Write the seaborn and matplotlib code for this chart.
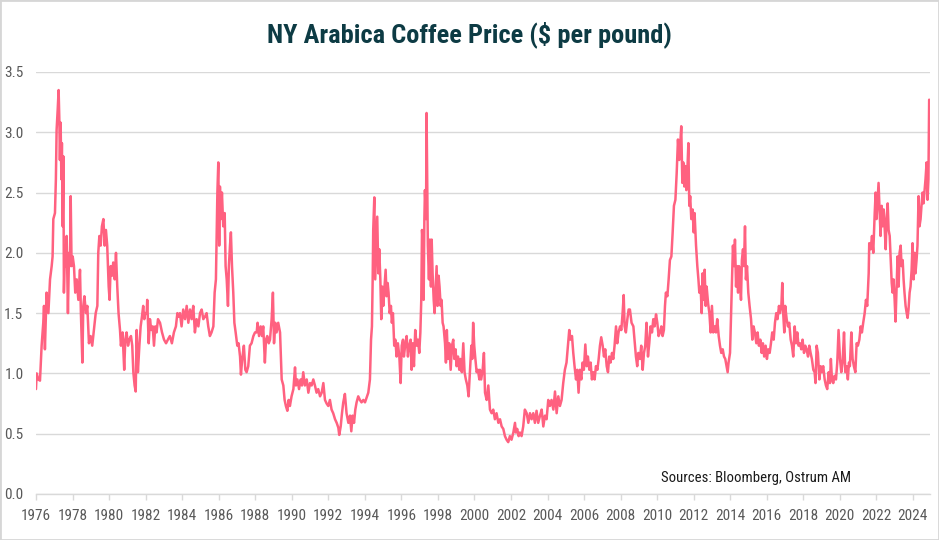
import numpy as np
import pandas as pd
import matplotlib
matplotlib.use("Agg")
import matplotlib.pyplot as plt
from matplotlib import font_manager
from matplotlib.patches import Rectangle
import seaborn as sns

# ---------------- data ----------------
years_1976_1983 = [
    1976.00,1976.04,1976.13,1976.22,1976.31,1976.40,1976.44,1976.49,1976.58,1976.68,
    1976.77,1976.86,1976.91,1976.95,1977.04,1977.09,1977.13,1977.19,1977.24,1977.28,
    1977.31,1977.35,1977.39,1977.42,1977.46,1977.50,1977.53,1977.59,1977.64,1977.68,
    1977.75,1977.81,1977.86,1977.90,1977.95,1978.01,1978.08,1978.15,1978.23,1978.32,
    1978.41,1978.46,1978.54,1978.59,1978.65,1978.74,1978.81,1978.90,1978.99,1979.08,
    1979.17,1979.27,1979.36,1979.41,1979.47,1979.54,1979.61,1979.69,1979.76,1979.83,
    1979.90,1979.98,1980.03,1980.09,1980.16,1980.23,1980.31,1980.38,1980.45,1980.52,
    1980.60,1980.65,1980.74,1980.83,1980.89,1980.96,1981.04,1981.11,1981.20,1981.27,
    1981.33,1981.40,1981.46,1981.51,1981.58,1981.66,1981.73,1981.80,1981.87,1981.93,
    1981.98,1982.06,1982.09,1982.17,1982.24,1982.31,1982.39,1982.46,1982.53,1982.60,
    1982.68,1982.79,1982.90,1983.01,1983.12,1983.22,1983.33,1983.44,1983.55,1983.66,
    1983.74,1983.81]
prices_1976_1983 = [
    0.87,1.00,0.95,0.94,1.23,1.42,1.56,1.20,1.67,1.50,
    1.78,1.89,1.97,2.28,2.33,2.61,3.02,3.19,3.35,3.10,
    2.77,3.08,2.61,2.91,2.22,2.80,1.67,2.06,1.89,2.14,
    1.50,2.00,1.89,2.47,1.89,1.97,1.89,1.67,1.78,1.61,
    1.86,1.50,1.09,1.56,1.64,1.50,1.56,1.25,1.31,1.23,
    1.36,1.50,1.56,2.00,2.14,2.06,2.22,2.28,2.06,2.19,
    2.06,1.72,1.61,1.89,1.81,1.92,1.78,2.00,1.72,1.50,
    1.36,1.23,1.34,1.03,1.28,1.34,1.23,1.28,1.31,1.23,
    1.01,0.90,0.85,1.36,1.01,1.23,1.39,1.47,1.56,1.45,
    1.50,1.50,1.61,1.25,1.45,1.36,1.39,1.23,1.39,1.34,
    1.45,1.42,1.34,1.28,1.25,1.28,1.31,1.25,1.34,1.39,
    1.50,1.47]

years_1984_1991 = [
    1983.88,1983.97,1984.06,1984.16,1984.25,1984.34,1984.43,1984.52,1984.61,1984.70,
    1984.79,1984.89,1984.98,1985.07,1985.16,1985.25,1985.34,1985.43,1985.52,1985.61,
    1985.71,1985.78,1985.85,1985.93,1985.98,1986.03,1986.07,1986.12,1986.18,1986.25,
    1986.33,1986.38,1986.44,1986.51,1986.56,1986.62,1986.67,1986.73,1986.80,1986.86,
    1986.93,1987.02,1987.09,1987.17,1987.22,1987.29,1987.38,1987.46,1987.53,1987.62,
    1987.71,1987.80,1987.90,1987.99,1988.08,1988.13,1988.21,1988.30,1988.37,1988.44,
    1988.53,1988.59,1988.66,1988.74,1988.81,1988.90,1988.97,1989.03,1989.10,1989.17,
    1989.26,1989.36,1989.45,1989.54,1989.61,1989.68,1989.76,1989.83,1989.90,1989.99,
    1990.09,1990.18,1990.23,1990.31,1990.40,1990.49,1990.56,1990.63,1990.72,1990.82,
    1990.91,1991.00,1991.09,1991.18,1991.27,1991.36,1991.45,1991.55,1991.64,1991.73,
    1991.82,1991.91,1992.00]
prices_1984_1991 = [
    1.50,1.39,1.53,1.45,1.56,1.42,1.53,1.45,1.56,1.34,
    1.45,1.39,1.50,1.53,1.45,1.47,1.50,1.39,1.31,1.34,
    1.39,1.67,1.78,2.50,2.75,2.06,2.55,2.28,2.50,2.22,
    2.33,1.89,1.78,1.56,1.89,2.06,2.17,1.89,1.67,1.42,
    1.34,1.23,1.25,1.14,0.99,1.12,1.23,1.03,1.01,1.06,
    1.23,1.25,1.31,1.34,1.34,1.42,1.31,1.39,1.31,1.39,
    1.09,1.28,1.31,1.25,1.28,1.45,1.67,1.25,1.42,1.34,
    1.42,1.34,0.95,0.90,0.78,0.73,0.69,0.78,0.73,0.81,
    0.87,1.05,0.90,0.95,0.87,0.95,0.90,1.01,0.90,0.95,
    0.84,0.92,0.90,0.95,0.90,0.84,0.87,0.81,0.84,0.92,
    0.78,0.75,0.73]

years_1992_2000 = [
    1992.09,1992.18,1992.27,1992.37,1992.46,1992.55,1992.60,1992.68,1992.75,1992.82,
    1992.91,1993.00,1993.10,1993.19,1993.26,1993.33,1993.41,1993.48,1993.55,1993.64,
    1993.73,1993.82,1993.92,1994.01,1994.10,1994.19,1994.28,1994.34,1994.39,1994.43,
    1994.46,1994.52,1994.57,1994.63,1994.68,1994.74,1994.79,1994.85,1994.90,1994.96,
    1995.01,1995.08,1995.14,1995.19,1995.25,1995.30,1995.36,1995.43,1995.48,1995.54,
    1995.61,1995.67,1995.74,1995.81,1995.89,1995.96,1996.02,1996.09,1996.14,1996.22,
    1996.29,1996.36,1996.43,1996.51,1996.56,1996.62,1996.69,1996.76,1996.84,1996.91,
    1996.98,1997.04,1997.09,1997.13,1997.18,1997.22,1997.26,1997.29,1997.35,1997.38,
    1997.42,1997.45,1997.51,1997.56,1997.62,1997.66,1997.71,1997.77,1997.82,1997.87,
    1997.93,1997.98,1998.04,1998.09,1998.15,1998.20,1998.26,1998.31,1998.39,1998.44,
    1998.49,1998.55,1998.62,1998.70,1998.77,1998.84,1998.90,1998.97,1999.02,1999.10,
    1999.17,1999.24,1999.31,1999.39,1999.46,1999.53,1999.61,1999.68,1999.75,1999.83,
    1999.88,1999.93,1999.99,2000.04,2000.12,2000.19,2000.27]
prices_1992_2000 = [
    0.78,0.70,0.67,0.62,0.59,0.55,0.49,0.56,0.67,0.76,
    0.83,0.67,0.59,0.65,0.52,0.65,0.59,0.70,0.76,0.81,
    0.78,0.76,0.78,0.76,0.80,0.84,0.95,1.28,1.39,1.78,
    2.19,2.46,1.78,2.06,2.30,1.83,2.03,1.78,1.45,1.72,
    1.56,1.72,1.86,1.64,1.75,1.67,1.50,1.56,1.42,1.50,
    1.23,1.28,1.14,1.25,1.14,0.92,1.23,1.28,1.14,1.25,
    1.31,1.14,1.23,1.28,1.03,1.25,1.06,1.36,1.23,1.28,
    1.17,1.34,1.61,2.19,2.06,1.61,2.28,2.52,2.28,3.16,
    2.55,2.06,1.78,2.11,1.72,2.11,1.83,1.61,1.50,1.67,
    1.89,1.56,1.81,1.72,1.56,1.61,1.42,1.39,1.25,1.09,
    1.36,1.12,1.25,1.03,1.23,1.28,1.12,1.20,1.06,1.14,
    1.03,1.12,1.01,1.25,1.01,0.95,0.90,0.81,1.01,1.23,
    1.12,1.42,1.23,1.14,1.01,1.03,0.95]

years_2000_2008 = [
    2000.30,2000.37,2000.45,2000.52,2000.58,2000.67,2000.76,2000.85,2000.94,2001.03,
    2001.12,2001.21,2001.31,2001.40,2001.49,2001.58,2001.67,2001.76,2001.85,2001.94,
    2002.03,2002.13,2002.22,2002.27,2002.34,2002.42,2002.49,2002.58,2002.67,2002.76,
    2002.86,2002.95,2003.04,2003.13,2003.22,2003.31,2003.40,2003.49,2003.59,2003.68,
    2003.77,2003.86,2003.95,2004.04,2004.13,2004.22,2004.32,2004.41,2004.50,2004.59,
    2004.68,2004.77,2004.86,2004.95,2005.04,2005.12,2005.19,2005.26,2005.34,2005.41,
    2005.48,2005.56,2005.63,2005.70,2005.77,2005.85,2005.92,2005.99,2006.07,2006.14,
    2006.21,2006.29,2006.36,2006.43,2006.51,2006.58,2006.65,2006.73,2006.80,2006.87,
    2006.94,2007.02,2007.09,2007.16,2007.24,2007.31,2007.38,2007.45,2007.53,2007.60,
    2007.67,2007.75,2007.82,2007.89,2007.97,2008.04,2008.11,2008.17,2008.22,2008.29,
    2008.37,2008.44]
prices_2000_2008 = [
    1.03,0.95,1.03,1.17,0.84,0.78,0.90,0.70,0.67,0.70,
    0.62,0.67,0.59,0.62,0.56,0.54,0.48,0.45,0.43,0.48,
    0.45,0.51,0.59,0.51,0.54,0.48,0.51,0.48,0.56,0.70,
    0.67,0.59,0.67,0.62,0.67,0.59,0.69,0.59,0.65,0.70,
    0.56,0.65,0.62,0.78,0.73,0.78,0.70,0.85,0.67,0.81,
    0.73,0.78,0.92,1.03,1.09,1.23,1.36,1.28,1.31,1.17,
    1.06,0.95,1.03,0.84,1.03,0.95,1.09,1.03,1.24,1.06,
    1.14,1.03,1.09,0.95,1.01,0.95,1.06,1.03,1.12,1.23,
    1.30,1.23,1.14,1.20,1.06,1.01,1.14,1.09,1.17,1.12,
    1.23,1.39,1.25,1.34,1.39,1.36,1.50,1.65,1.39,1.34,
    1.45,1.53]

years_2008_2016 = [
    2008.51,2008.60,2008.70,2008.79,2008.84,2008.91,2008.97,2009.06,2009.13,2009.21,
    2009.28,2009.35,2009.42,2009.50,2009.57,2009.64,2009.72,2009.79,2009.86,2009.94,
    2010.01,2010.08,2010.16,2010.23,2010.30,2010.37,2010.43,2010.48,2010.56,2010.63,
    2010.70,2010.78,2010.85,2010.92,2011.00,2011.07,2011.14,2011.21,2011.27,2011.32,
    2011.38,2011.43,2011.49,2011.54,2011.60,2011.65,2011.71,2011.76,2011.81,2011.87,
    2011.94,2012.00,2012.05,2012.13,2012.20,2012.26,2012.31,2012.38,2012.44,2012.49,
    2012.55,2012.60,2012.66,2012.71,2012.79,2012.86,2012.93,2013.00,2013.07,2013.15,
    2013.22,2013.29,2013.37,2013.44,2013.51,2013.59,2013.66,2013.73,2013.80,2013.86,
    2013.91,2013.99,2014.04,2014.10,2014.15,2014.21,2014.26,2014.32,2014.37,2014.43,
    2014.48,2014.53,2014.59,2014.64,2014.70,2014.75,2014.81,2014.86,2014.92,2014.99,
    2015.06,2015.14,2015.21,2015.28,2015.35,2015.43,2015.50,2015.57,2015.65,2015.72,
    2015.79,2015.86,2015.94,2016.01,2016.08,2016.16,2016.23,2016.30,2016.38,2016.45,
    2016.52,2016.59,2016.67]
prices_2008_2016 = [
    1.53,1.42,1.39,1.23,1.14,1.06,1.17,1.12,1.23,1.03,
    1.17,1.23,1.42,1.14,1.25,1.39,1.34,1.45,1.39,1.49,
    1.42,1.31,1.34,1.39,1.31,1.36,1.56,1.67,1.64,1.78,
    1.94,1.97,2.17,2.39,2.44,2.66,2.94,2.77,2.91,3.05,
    2.58,2.75,2.55,2.72,2.52,2.66,2.91,2.39,2.47,2.28,
    2.36,2.17,2.33,2.06,1.89,1.78,1.67,1.72,1.50,1.83,
    1.61,1.86,1.56,1.72,1.58,1.50,1.34,1.56,1.34,1.39,
    1.34,1.45,1.31,1.23,1.17,1.20,1.14,1.12,1.06,1.01,
    1.09,1.17,1.45,1.78,2.06,1.89,2.11,1.72,1.89,1.67,
    1.89,1.78,1.61,1.94,2.03,1.89,2.22,1.78,1.89,1.67,
    1.56,1.45,1.28,1.39,1.34,1.25,1.34,1.23,1.28,1.17,
    1.25,1.14,1.23,1.12,1.20,1.17,1.25,1.34,1.28,1.42,
    1.50,1.45,1.56]

years_2016_2024 = [
    2016.72,2016.80,2016.85,2016.90,2016.96,2017.01,2017.09,2017.16,2017.23,2017.31,
    2017.38,2017.45,2017.53,2017.60,2017.67,2017.74,2017.82,2017.89,2017.96,2018.04,
    2018.11,2018.18,2018.26,2018.33,2018.40,2018.47,2018.55,2018.62,2018.67,2018.73,
    2018.80,2018.88,2018.95,2019.02,2019.09,2019.17,2019.24,2019.31,2019.39,2019.46,
    2019.51,2019.57,2019.64,2019.71,2019.79,2019.86,2019.93,2020.01,2020.08,2020.15,
    2020.23,2020.30,2020.37,2020.44,2020.50,2020.55,2020.63,2020.70,2020.77,2020.85,
    2020.92,2020.99,2021.07,2021.14,2021.21,2021.28,2021.36,2021.43,2021.50,2021.58,
    2021.61,2021.69,2021.76,2021.83,2021.91,2021.96,2022.01,2022.07,2022.12,2022.18,
    2022.23,2022.29,2022.34,2022.40,2022.45,2022.51,2022.56,2022.62,2022.67,2022.73,
    2022.78,2022.84,2022.89,2022.94,2023.00,2023.05,2023.11,2023.16,2023.22,2023.27,
    2023.33,2023.38,2023.44,2023.49,2023.54,2023.60,2023.66,2023.71,2023.76,2023.82,
    2023.87,2023.93,2023.98,2024.04,2024.09,2024.14,2024.20,2024.25,2024.31,2024.36,
    2024.42,2024.47,2024.53,2024.58,2024.64,2024.69,2024.75,2024.80,2024.85,2024.89]
prices_2016_2024 = [
    1.50,1.56,1.75,1.50,1.34,1.56,1.45,1.39,1.42,1.28,
    1.23,1.14,1.39,1.25,1.34,1.23,1.25,1.20,1.28,1.17,
    1.23,1.20,1.14,1.23,1.17,1.12,1.03,1.01,0.92,1.23,
    1.17,0.95,1.06,1.01,1.06,0.95,0.90,0.87,1.01,0.92,
    1.12,0.95,0.92,0.98,0.95,1.09,1.36,1.12,1.01,1.09,
    1.34,1.01,1.06,0.95,1.09,1.06,1.34,1.12,1.06,1.01,
    1.25,1.23,1.28,1.39,1.34,1.42,1.50,1.61,1.56,1.83,
    2.08,2.03,2.14,2.00,2.33,2.50,2.28,2.44,2.58,2.33,
    2.14,2.39,2.22,2.36,2.22,2.03,2.28,2.41,2.19,2.14,
    1.97,1.75,1.67,1.78,1.61,1.43,1.72,1.97,1.72,2.00,
    2.06,1.89,1.94,1.78,1.67,1.56,1.50,1.46,1.53,1.67,
    1.72,1.86,2.08,1.78,2.00,1.83,1.94,2.06,2.47,2.22,
    2.28,2.39,2.50,2.41,2.52,2.61,2.75,2.44,2.61,3.27]

year_ticks = list(range(1976, 2025, 2))
y_ticks = [0.0, 0.5, 1.0, 1.5, 2.0, 2.5, 3.0, 3.5]
title_text = "NY Arabica Coffee Price ($ per pound)"
source_text = "Sources: Bloomberg, Ostrum AM"

df = pd.DataFrame({
    "year": years_1976_1983 + years_1984_1991 + years_1992_2000
            + years_2000_2008 + years_2008_2016 + years_2016_2024,
    "price": prices_1976_1983 + prices_1984_1991 + prices_1992_2000
             + prices_2000_2008 + prices_2008_2016 + prices_2016_2024,
})

# ---------------- style ----------------
sns.set_style("white")
installed = {f.name for f in font_manager.fontManager.ttflist}
preferred = ["Liberation Sans Narrow", "Roboto Condensed", "Noto Sans Condensed",
             "Open Sans Condensed", "Liberation Sans", "DejaVu Sans"]
FONT = [f for f in preferred if f in installed] or ["DejaVu Sans"]
narrow = FONT[0] in ("Liberation Sans Narrow", "Roboto Condensed",
                     "Noto Sans Condensed", "Open Sans Condensed")
plt.rcParams["font.family"] = FONT

# font sizes chosen so the text widths match the reference
tick_fs = 11.0 if narrow else 10.0
title_fs = 19 if narrow else 16.5
src_fs = 10.6 if narrow else 9.8

LINE = "#FF6180"
GRID = "#D9D9D9"
TICKTXT = "#595959"

fig = plt.figure(figsize=(9.39, 5.40), dpi=100)
ax = fig.add_axes([0.0383, 0.0852, 0.952, 0.7815])

sns.lineplot(data=df, x="year", y="price", ax=ax, color=LINE,
             linewidth=1.8, estimator=None, sort=True)

ax.set_xlim(1976, 2024.93)
ax.set_ylim(0, 3.5)
ax.set_xticks(year_ticks)
ax.set_xticklabels([str(y) for y in year_ticks])
ax.set_yticks(y_ticks)
ax.set_yticklabels([f"{v:.1f}" for v in y_ticks])
ax.set_xlabel("")
ax.set_ylabel("")

ax.yaxis.grid(True, color=GRID, linewidth=1.0)
ax.xaxis.grid(False)
ax.set_axisbelow(True)
for s in ["left", "right", "top"]:
    ax.spines[s].set_visible(False)
ax.spines["bottom"].set_color(GRID)
ax.spines["bottom"].set_linewidth(1.0)

ax.tick_params(axis="x", length=4, width=1, color=GRID, pad=7,
               labelsize=tick_fs, labelcolor=TICKTXT, direction="out", bottom=True)
ax.tick_params(axis="y", length=0, pad=9, labelsize=tick_fs, labelcolor=TICKTXT)

fig.text(0.5, 1 - 35 / 540, title_text, ha="center", va="center",
         fontsize=title_fs, fontweight="bold", color="#0D3B44", family=FONT)
fig.text(851 / 939, 1 - 478 / 540, source_text, ha="right", va="center",
         fontsize=src_fs, color="#1A1A1A", family=FONT)

fig.patches.append(Rectangle((0, 0), 1, 1, transform=fig.transFigure,
                             fill=False, edgecolor="#D6D6D6", linewidth=2.0))

fig.savefig("out.png", dpi=100)
